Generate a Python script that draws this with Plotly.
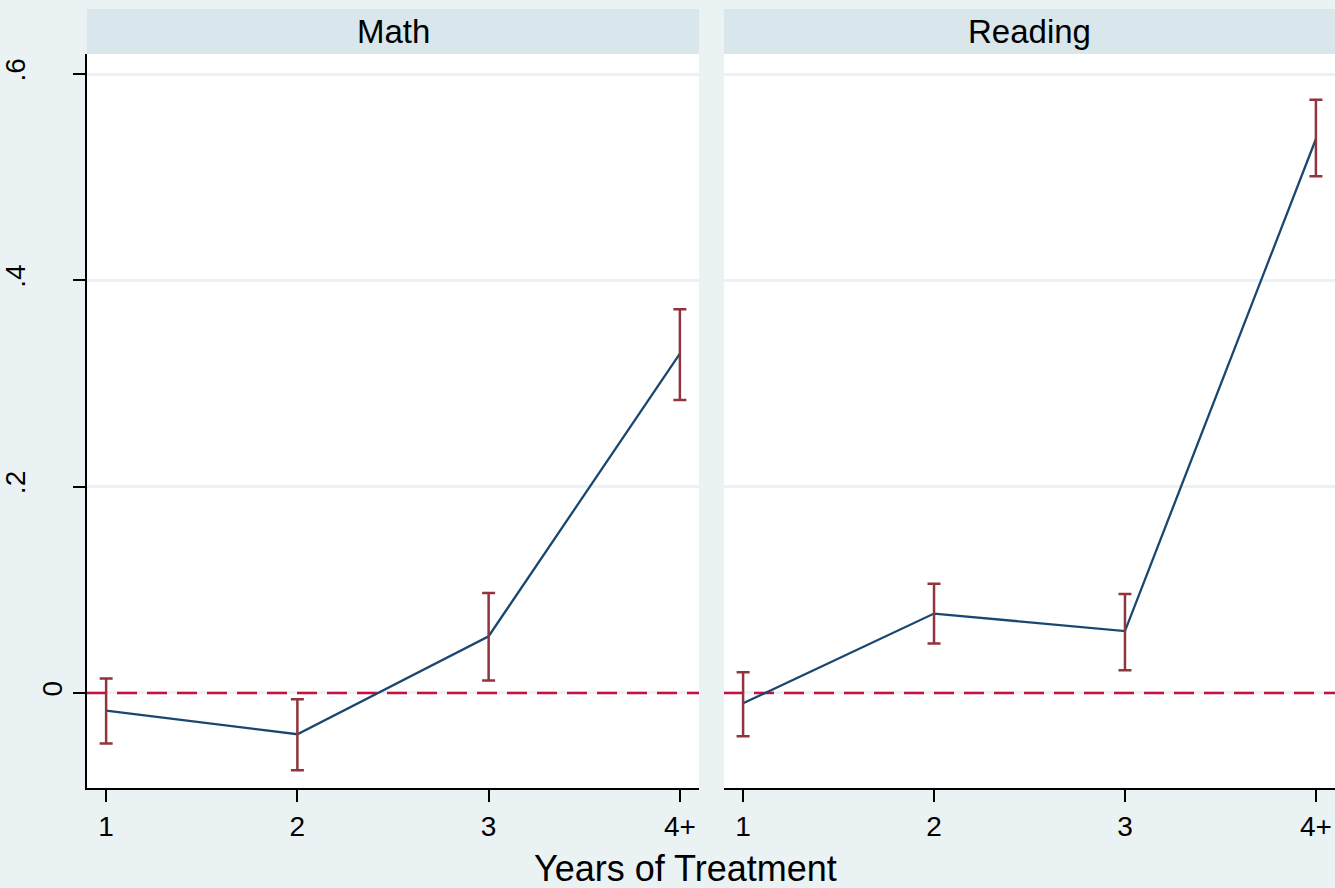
import plotly.graph_objects as go

# ---- data ----
years = ["1", "2", "3", "4+"]
x_pos = [1, 2, 3, 4]

math_est = [-0.017, -0.040, 0.055, 0.329]
math_lo = [-0.049, -0.075, 0.012, 0.284]
math_hi = [0.014, -0.006, 0.097, 0.372]

read_est = [-0.010, 0.077, 0.060, 0.537]
read_lo = [-0.042, 0.048, 0.022, 0.501]
read_hi = [0.020, 0.106, 0.096, 0.575]

panels = ["Math", "Reading"]
y_tickvals = [0, 0.2, 0.4, 0.6]
y_ticktext = ["0", ".2<br> ", ".4<br> ", ".6<br> "]
x_title = "Years of Treatment"

# ---- style ----
BG = "#EAF2F3"
STRIP = "#D9E6EB"
NAVY = "#1A476F"
MAROON = "#90353B"
RED = "#C8103C"
FONT = "Liberation Sans, Arial, sans-serif"

W, H = 1335, 888
ML, MR, MT, MB = 87, 0, 54, 100
PW = W - ML - MR
PH = H - MT - MB
left_end = (699 - ML) / PW
right_start = (724 - ML) / PW

fig = go.Figure()

datasets = [(math_est, math_lo, math_hi), (read_est, read_lo, read_hi)]
for i, (est, lo, hi) in enumerate(datasets):
    xa = "x" if i == 0 else "x2"
    # zero reference line
    fig.add_trace(go.Scatter(
        x=[0.9, 4.1], y=[0, 0], mode="lines", xaxis=xa, yaxis="y",
        line=dict(color=RED, width=2.5, dash="20px,10px"),
        hoverinfo="skip", showlegend=False))
    # estimate line
    fig.add_trace(go.Scatter(
        x=x_pos, y=est, mode="lines", xaxis=xa, yaxis="y",
        line=dict(color=NAVY, width=2.3), showlegend=False))
    # confidence intervals (caps)
    fig.add_trace(go.Scatter(
        x=x_pos, y=est, mode="markers", xaxis=xa, yaxis="y",
        marker=dict(size=0.1, color="rgba(0,0,0,0)"),
        error_y=dict(type="data", symmetric=False,
                     array=[h - e for h, e in zip(hi, est)],
                     arrayminus=[e - l for e, l in zip(est, lo)],
                     color=MAROON, thickness=2.5, width=6.5),
        showlegend=False))

yrange = [-0.0921, 0.6194]
common_x = dict(range=[0.9, 4.1], tickvals=x_pos, ticktext=years,
                showgrid=False, zeroline=False, showline=True,
                linecolor="black", linewidth=2, ticks="outside",
                ticklen=12, tickwidth=2, tickcolor="black",
                tickfont=dict(family=FONT, size=28, color="black"),
                anchor="y")
fig.update_layout(
    xaxis=dict(domain=[0, left_end], **common_x),
    xaxis2=dict(domain=[right_start, 1], **common_x),
    yaxis=dict(range=yrange, tickvals=y_tickvals, ticktext=y_ticktext,
               showgrid=True, gridcolor=BG, gridwidth=3, zeroline=False,
               showline=True, linecolor="black", linewidth=2,
               ticks="outside", ticklen=12, tickwidth=2, tickcolor="black",
               tickangle=-90,
               tickfont=dict(family=FONT, size=28, color="black"),
               anchor="x"),
    width=W, height=H,
    margin=dict(l=ML, r=MR, t=MT, b=MB),
    paper_bgcolor=BG, plot_bgcolor="white",
    showlegend=False,
)

# gap between panels
fig.add_shape(type="rect", xref="paper", yref="paper",
              x0=left_end, x1=right_start, y0=0, y1=1,
              fillcolor=BG, line=dict(width=0), layer="below")

# header strips and panel titles
strip_top = 1 + (MT - 9) / PH
for name, (x0, x1) in zip(panels, [(0, left_end), (right_start, 1)]):
    fig.add_shape(type="rect", xref="paper", yref="paper",
                  x0=x0, x1=x1, y0=1, y1=strip_top,
                  fillcolor=STRIP, line=dict(width=0))
    fig.add_annotation(text=name, xref="paper", yref="paper",
                       x=(x0 + x1) / 2, y=(1 + strip_top) / 2,
                       xanchor="center", yanchor="middle", showarrow=False,
                       font=dict(family=FONT, size=33, color="black"))

fig.add_annotation(text=x_title, xref="paper", yref="paper",
                   x=(685 - ML) / PW, y=-(868 - (MT + PH)) / PH,
                   xanchor="center", yanchor="middle", showarrow=False,
                   font=dict(family=FONT, size=36, color="black"))

fig.write_html("out.html",
               config={"displayModeBar": False},
               post_script="document.body.style.margin='0px';")
